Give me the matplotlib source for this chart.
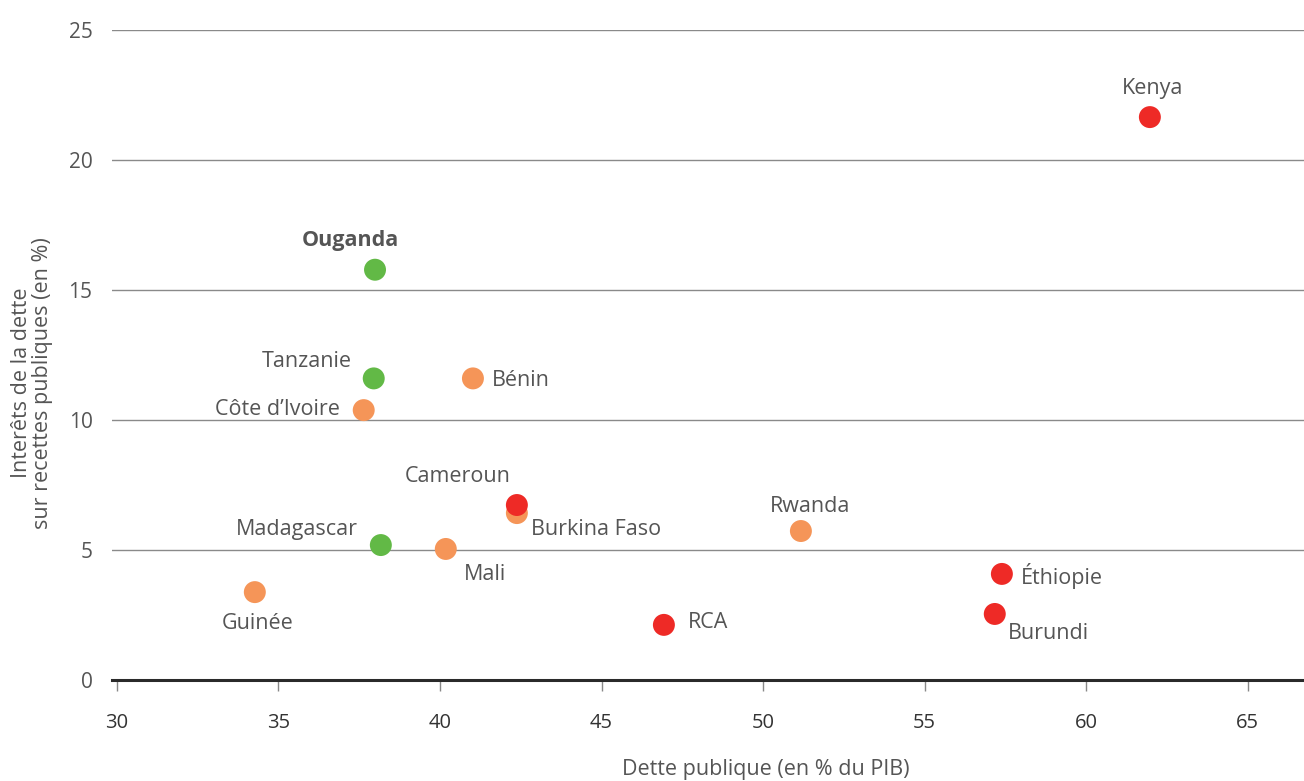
import matplotlib
matplotlib.use("Agg")
import matplotlib.pyplot as plt

plt.rcParams['font.family'] = ['Open Sans', 'DejaVu Sans']

countries = ["Kenya", "Ouganda", "Tanzanie", "Bénin", "Côte d’Ivoire", "Burkina Faso",
             "Cameroun", "Madagascar", "Mali", "Guinée", "RCA", "Rwanda", "Éthiopie", "Burundi"]
dette = [61.97, 37.99, 37.95, 41.02, 37.64, 42.38, 42.38, 38.17, 40.18, 34.27, 46.93, 51.17, 57.39, 57.17]
interets = [21.65, 15.78, 11.6, 11.6, 10.38, 6.42, 6.73, 5.19, 5.04, 3.38, 2.12, 5.73, 4.08, 2.54]
groupes = ["rouge", "vert", "vert", "orange", "orange", "orange", "rouge", "vert", "orange",
           "orange", "rouge", "orange", "rouge", "rouge"]

x_ticks = [30, 35, 40, 45, 50, 55, 60, 65]
y_ticks = [0, 5, 10, 15, 20, 25]

colors = {"vert": "#62b946", "orange": "#f59558", "rouge": "#ee2a26"}

# label placement: (dx px, dy px, ha, va) relative to point; positive dy = up
label_pos = {
    "Kenya": (3, 29, "center", "center"),
    "Ouganda": (-25, 29, "center", "center"),
    "Tanzanie": (-22, 17, "right", "center"),
    "Bénin": (19, -2, "left", "center"),
    "Côte d’Ivoire": (-24, 1, "right", "center"),
    "Burkina Faso": (14, -16, "left", "center"),
    "Cameroun": (-59, 29, "center", "center"),
    "Madagascar": (-23, 16, "right", "center"),
    "Mali": (39, -26, "center", "center"),
    "Guinée": (3, -31, "center", "center"),
    "RCA": (24, 2, "left", "center"),
    "Rwanda": (9, 25, "center", "center"),
    "Éthiopie": (19, -2, "left", "center"),
    "Burundi": (13, -20, "left", "center"),
}

fig = plt.figure(figsize=(13.04, 7.81), dpi=100)
ax = fig.add_axes([112/1304, 1-680/781, 1-112/1304, (680-30)/781])

ax.set_xlim(29.85, 66.74)
ax.set_ylim(0, 25)

for y in y_ticks[1:]:
    ax.axhline(y, color="#8a8a8a", lw=1.0, zorder=1)
ax.axhline(0, color="#2a2a2a", lw=2.2, zorder=2, clip_on=False)

order = [i for i in range(len(countries)) if countries[i] != "Cameroun"] + [countries.index("Cameroun")]
for i in order:
    ax.scatter(dette[i], interets[i], s=250, color=colors[groupes[i]], edgecolors="none",
               zorder=3, clip_on=False)

for i, c in enumerate(countries):
    dx, dy, ha, va = label_pos[c]
    ax.annotate(c, (dette[i], interets[i]), xytext=(dx*0.72, dy*0.72), textcoords="offset points",
                ha=ha, va=va, fontsize=15.5, color="#555555",
                fontweight="bold" if c == "Ouganda" else "normal", zorder=4)

for s in ax.spines.values():
    s.set_visible(False)

ax.set_xticks(x_ticks)
ax.set_xticklabels([str(v) for v in x_ticks])
ax.set_yticks(y_ticks)
ax.set_yticklabels([str(v) for v in y_ticks])
ax.tick_params(axis="x", length=8, width=1, color="#888888", pad=16, labelsize=14.5, labelcolor="#333333")
ax.tick_params(axis="y", length=0, pad=14, labelsize=15, labelcolor="#555555")

fig.text(766/1304, 1-770/781, "Dette publique (en % du PIB)", ha="center", va="center",
         fontsize=15.5, color="#555555")
fig.text(32/1304, 1-383/781, "Interêts de la dette\nsur recettes publiques (en %)", rotation=90,
         ha="center", va="center", fontsize=15.5, color="#555555", linespacing=1.05)

fig.savefig("out.png", dpi=100)
